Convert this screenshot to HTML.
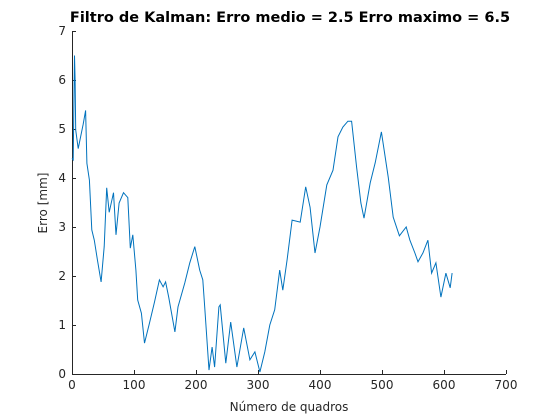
<!DOCTYPE html>
<html><head><meta charset="utf-8">
<style>
html,body{margin:0;padding:0;background:#fff;}
svg{display:block;}
text{font-family:"DejaVu Sans","Liberation Sans",sans-serif;fill:#262626;}
</style></head>
<body>
<svg id="chart" width="560" height="420" viewBox="0 0 560 420">
<rect width="560" height="420" fill="#fff"/>
<text x="290" y="22" text-anchor="middle" font-size="14.5" font-weight="bold" style="fill:#000">Filtro de Kalman: Erro medio = 2.5 Erro maximo = 6.5</text>
<g id="axes"></g>
<polyline id="line" fill="none" stroke="#0072BD" stroke-width="1"/>
<text x="289" y="411" text-anchor="middle" font-size="12">Número de quadros</text>
<text transform="translate(47,203) rotate(-90)" text-anchor="middle" font-size="12">Erro [mm]</text>
</svg>
<script>
const frames = [0,2,4,5,6,10,18,22,24,28,32,36,41,47,52,56,60,67,71,76,83,90,94,98,103,106,112,117,125,133,141,147,151,156,166,171,182,190,198,206,211,214,221,226,230,237,239,248,256,266,277,287,295,303,311,319,327,335,340,347,355,368,377,384,392,400,411,421,429,437,445,451,459,466,471,481,489,499,510,518,528,539,545,553,558,566,574,580,587,595,603,610,613];
const errors = [4.4,4.37,6.5,6.0,4.98,4.6,5.1,5.38,4.3,3.96,2.94,2.73,2.33,1.88,2.6,3.8,3.3,3.7,2.84,3.49,3.7,3.6,2.57,2.84,2.12,1.51,1.24,0.63,1.04,1.47,1.92,1.78,1.88,1.57,0.86,1.37,1.86,2.27,2.6,2.12,1.92,1.37,0.08,0.55,0.14,1.37,1.41,0.22,1.06,0.14,0.94,0.29,0.45,0.04,0.45,1.0,1.31,2.12,1.71,2.33,3.14,3.1,3.82,3.4,2.47,3.0,3.86,4.16,4.84,5.04,5.16,5.16,4.22,3.49,3.18,3.9,4.31,4.94,4.02,3.2,2.82,3.0,2.73,2.47,2.29,2.47,2.73,2.06,2.27,1.57,2.06,1.76,2.06];
const xTicks = [0,100,200,300,400,500,600,700];
const yTicks = [0,1,2,3,4,5,6,7];

const X0=72, X1=506, Y0=374, Y1=31;
const xs = v => X0 + (v-0)/(700-0)*(X1-X0);
const ys = v => Y0 - (v-0)/(7-0)*(Y0-Y1);
const NS='http://www.w3.org/2000/svg';
const ax=document.getElementById('axes');
function mk(tag,attrs){const e=document.createElementNS(NS,tag);for(const k in attrs)e.setAttribute(k,attrs[k]);ax.appendChild(e);return e;}
const xl=mk('line',{x1:X0,y1:Y0+0.5,x2:X1,y2:Y0+0.5,stroke:'#262626','stroke-width':1});


const yl=mk('line',{x1:X0+0.5,y1:Y1,x2:X0+0.5,y2:Y0,stroke:'#262626','stroke-width':1});


xTicks.forEach(t=>{
  const x=Math.round(xs(t))+0.5;
  const tk=mk('line',{x1:x,y1:Y0,x2:x,y2:Y0-4,stroke:'#262626'});
  
  
  const lb=mk('text',{x:xs(t),y:Y0+15,'text-anchor':'middle','font-size':12});
  lb.textContent=t;
  
  
});
yTicks.forEach(t=>{
  const y=Math.round(ys(t))+0.5;
  const tk=mk('line',{x1:X0,y1:y,x2:X0+4,y2:y,stroke:'#262626'});
  
  
  const lb=mk('text',{x:X0-6,y:ys(t)+4,'text-anchor':'end','font-size':12});
  lb.textContent=t;
  
  
});
document.getElementById('line').setAttribute('points',frames.map((f,i)=>xs(f).toFixed(1)+','+ys(errors[i]).toFixed(1)).join(' '));
</script>
</body></html>
